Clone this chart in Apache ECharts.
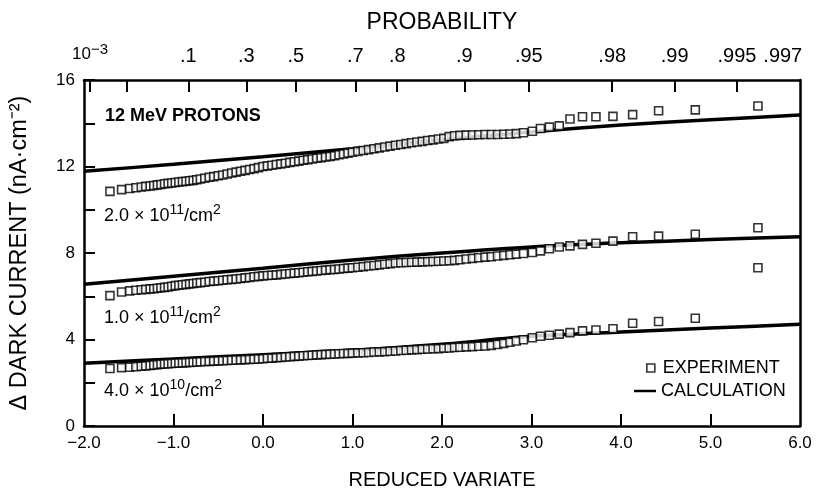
<!DOCTYPE html>
<html>
<head>
<meta charset="utf-8">
<script src="https://cdn.jsdelivr.net/npm/echarts@6/dist/echarts.min.js"></script>
<style>
  html, body { margin: 0; padding: 0; background: #fff; }
  #chart { width: 826px; height: 495px; }
</style>
</head>
<body>
<div id="chart"></div>
<script>
// Reduced variate (Gumbel plotting positions) shared by the three fluence sets
const reducedVariate = [
  -1.71, -1.58, -1.49, -1.42, -1.36, -1.31, -1.26, -1.22, -1.18, -1.14,
  -1.10, -1.06, -1.02, -0.98, -0.94, -0.90, -0.86, -0.82, -0.78, -0.74,
  -0.70, -0.65, -0.60, -0.55, -0.50, -0.45, -0.40, -0.35, -0.30, -0.25,
  -0.20, -0.15, -0.10, -0.05, 0.00, 0.05, 0.10, 0.15, 0.20, 0.25,
  0.30, 0.35, 0.40, 0.45, 0.50, 0.55, 0.60, 0.65, 0.70, 0.75,
  0.80, 0.85, 0.90, 0.95, 1.00, 1.06, 1.12, 1.18, 1.24, 1.30,
  1.36, 1.42, 1.48, 1.54, 1.60, 1.66, 1.72, 1.78, 1.84, 1.90,
  1.96, 2.02, 2.08, 2.14, 2.20, 2.27, 2.34, 2.41, 2.48, 2.55,
  2.62, 2.69, 2.76, 2.83, 2.91, 3.01, 3.10, 3.20, 3.31, 3.43,
  3.57, 3.72, 3.91, 4.13, 4.42, 4.83, 5.53
];

// Measured dark current increase (nA/cm^2), 2.0e11 protons/cm^2
const exp2e11 = [
  10.85, 10.93, 10.98, 11.02, 11.05, 11.08, 11.10, 11.12, 11.15, 11.17,
  11.20, 11.22, 11.24, 11.26, 11.28, 11.30, 11.32, 11.34, 11.36, 11.39,
  11.42, 11.46, 11.50, 11.53, 11.57, 11.61, 11.65, 11.70, 11.74, 11.78,
  11.82, 11.86, 11.90, 11.95, 12.00, 12.03, 12.06, 12.09, 12.12, 12.15,
  12.19, 12.22, 12.25, 12.29, 12.32, 12.35, 12.38, 12.41, 12.44, 12.47,
  12.50, 12.54, 12.58, 12.62, 12.66, 12.70, 12.74, 12.78, 12.82, 12.86,
  12.90, 12.94, 12.98, 13.02, 13.06, 13.10, 13.13, 13.16, 13.20, 13.23,
  13.27, 13.30, 13.38, 13.42, 13.44, 13.45, 13.46, 13.47, 13.48, 13.48,
  13.48, 13.49, 13.50, 13.52, 13.56, 13.63, 13.76, 13.82, 13.88, 14.20,
  14.30, 14.30, 14.32, 14.40, 14.58, 14.62, 14.80
];

// 1.0e11 protons/cm^2
const exp1e11 = [
  6.03, 6.20, 6.25, 6.28, 6.30, 6.32, 6.34, 6.35, 6.37, 6.39,
  6.41, 6.43, 6.46, 6.49, 6.51, 6.53, 6.55, 6.57, 6.59, 6.61,
  6.63, 6.65, 6.68, 6.70, 6.72, 6.74, 6.76, 6.78, 6.80, 6.82,
  6.85, 6.87, 6.90, 6.92, 6.94, 6.96, 6.97, 6.99, 7.01, 7.03,
  7.05, 7.07, 7.09, 7.11, 7.13, 7.15, 7.17, 7.19, 7.21, 7.23,
  7.24, 7.26, 7.28, 7.30, 7.32, 7.34, 7.37, 7.40, 7.42, 7.45,
  7.48, 7.51, 7.54, 7.55, 7.56, 7.57, 7.58, 7.59, 7.60, 7.61,
  7.62, 7.63, 7.64, 7.66, 7.69, 7.72, 7.75, 7.78, 7.81, 7.83,
  7.86, 7.89, 7.92, 7.95, 7.98, 8.02, 8.10, 8.20, 8.28, 8.33,
  8.40, 8.45, 8.55, 8.75, 8.78, 8.87, 9.17
];
// second sample at the top plotting position for 1.0e11
const exp1e11ExtraX = [5.53];
const exp1e11ExtraY = [7.32];

// 4.0e10 protons/cm^2 (no sample at the last position)
const exp4e10 = [
  2.66, 2.70, 2.72, 2.74, 2.76, 2.78, 2.80, 2.82, 2.84, 2.86,
  2.87, 2.88, 2.89, 2.90, 2.91, 2.92, 2.93, 2.94, 2.95, 2.96,
  2.97, 2.98, 2.99, 3.00, 3.01, 3.02, 3.03, 3.04, 3.05, 3.06,
  3.07, 3.08, 3.09, 3.10, 3.11, 3.13, 3.14, 3.16, 3.17, 3.19,
  3.20, 3.22, 3.23, 3.25, 3.26, 3.27, 3.29, 3.30, 3.31, 3.32,
  3.33, 3.34, 3.35, 3.36, 3.37, 3.38, 3.39, 3.40, 3.42, 3.43,
  3.44, 3.46, 3.47, 3.49, 3.50, 3.52, 3.53, 3.55, 3.56, 3.57,
  3.58, 3.60, 3.61, 3.63, 3.64, 3.66, 3.67, 3.69, 3.70, 3.73,
  3.77, 3.82, 3.87, 3.93, 3.99, 4.08, 4.15, 4.20, 4.25, 4.32,
  4.40, 4.44, 4.50, 4.75, 4.83, 4.98, null
];

// Calculated curves
const calcX = [-2, -1, 0, 1, 2, 3, 4, 5, 6];
const calc2e11 = [11.78, 12.10, 12.45, 12.82, 13.24, 13.60, 13.92, 14.16, 14.38];
const calc1e11 = [6.55, 6.93, 7.30, 7.68, 8.00, 8.28, 8.47, 8.62, 8.75];
const calc4e10 = [2.90, 3.10, 3.30, 3.50, 3.78, 4.15, 4.35, 4.53, 4.70];

// Axis ticks and labels
const xLabelValues = [-2, -1, 0, 1, 2, 3, 4, 5, 6];
const xLabelTexts = ['\u22122.0', '\u22121.0', '0.0', '1.0', '2.0', '3.0', '4.0', '5.0', '6.0'];
const xInnerTicks = [-1, 0, 1, 2, 3, 4, 5];
const yLabelValues = [0, 4, 8, 12, 16];
const probTicks = [0.001, 0.01, 0.1, 0.3, 0.5, 0.7, 0.8, 0.9, 0.95, 0.98, 0.99, 0.995];
const probLabelValues = [0.001, 0.1, 0.3, 0.5, 0.7, 0.8, 0.9, 0.95, 0.98, 0.99, 0.995, 0.997];
const probLabelTexts = ['{a|10}{b|\u22123}', '.1', '.3', '.5', '.7', '.8', '.9', '.95', '.98', '.99', '.995', '.997'];

// Gumbel reduced variate of a cumulative probability
const toReduced = p => -Math.log(-Math.log(p));
const probTickVariate = probTicks.map(toReduced);
const probLabelPos = probLabelValues.map(toReduced);

// tick length in data units of the current axis (0..16 spans the frame height)
const Y_MIN = 0, Y_MAX = 16, TICK_LEN = 0.55;

const pairs = (xs, ys) => xs.map((x, i) => [x, ys[i]]).filter(d => d[1] != null);

const SANS = "'Liberation Sans', Arial, sans-serif";

const scatterSeries = (data) => ({
  name: 'EXPERIMENT', type: 'scatter', symbol: 'rect', symbolSize: 8,
  itemStyle: { color: '#fff', borderColor: '#000', borderWidth: 1.6 }, data, z: 3, silent: true
});
const lineSeries = (ys) => ({
  name: 'CALCULATION', type: 'line', showSymbol: false, smooth: 0.3,
  lineStyle: { color: '#000', width: 3.5 }, itemStyle: { color: '#000' },
  data: pairs(calcX, ys), z: 2, silent: true
});

// inward tick marks on the bottom (reduced variate) and top (probability) edges
const tickSegments = [].concat(
  xInnerTicks.map(x => [{ coord: [x, Y_MIN] }, { coord: [x, Y_MIN + TICK_LEN] }]),
  probTickVariate.map(x => [{ coord: [x, Y_MAX] }, { coord: [x, Y_MAX - TICK_LEN] }])
);

const chart = echarts.init(document.getElementById('chart'));

const doseLabel = (text, top) => ({
  type: 'text', left: 104, top,
  style: {
    text,
    rich: {
      b: { fontFamily: SANS, fontSize: 18, lineHeight: 26, fill: '#000' },
      s: { fontFamily: SANS, fontSize: 14, lineHeight: 14, verticalAlign: 'top', fill: '#000' }
    }
  }
});

const firstLine = lineSeries(calc2e11);
firstLine.markLine = {
  silent: true, symbol: ['none', 'none'], animation: false,
  label: { show: false },
  lineStyle: { color: '#000', width: 2, type: 'solid' },
  emphasis: { disabled: true },
  data: tickSegments
};

chart.setOption({
  animation: false,
  grid: { left: 82, right: 26, top: 80, bottom: 68 },
  xAxis: [
    {
      type: 'value', position: 'bottom', min: -2, max: 6, interval: 1,
      axisLine: { show: true, onZero: false, lineStyle: { color: '#000', width: 2.5 } },
      axisTick: { show: false },
      axisLabel: {
        margin: 9, color: '#000', fontFamily: SANS, fontSize: 17,
        formatter: v => xLabelTexts[xLabelValues.findIndex(t => Math.abs(t - v) < 1e-6)]
      },
      splitLine: { show: false },
      name: 'REDUCED VARIATE', nameLocation: 'middle', nameGap: 44,
      nameTextStyle: { color: '#000', fontFamily: SANS, fontSize: 20 }
    },
    {
      type: 'value', position: 'top', min: -2, max: 6,
      axisLine: { show: true, onZero: false, lineStyle: { color: '#000', width: 2.5 } },
      axisTick: { show: false },
      axisLabel: {
        customValues: probLabelPos, margin: 14, color: '#000', fontFamily: SANS, fontSize: 20,
        formatter: v => {
          let best = 0;
          probLabelPos.forEach((p, i) => { if (Math.abs(p - v) < Math.abs(probLabelPos[best] - v)) best = i; });
          return probLabelTexts[best];
        },
        rich: {
          a: { fontFamily: SANS, fontSize: 17, lineHeight: 24, color: '#000' },
          b: { fontFamily: SANS, fontSize: 15, lineHeight: 15, verticalAlign: 'top', color: '#000' }
        }
      },
      splitLine: { show: false },
      name: 'PROBABILITY', nameLocation: 'middle', nameGap: 46,
      nameTextStyle: { color: '#000', fontFamily: SANS, fontSize: 23 }
    }
  ],
  yAxis: [
    {
      type: 'value', position: 'left', min: Y_MIN, max: Y_MAX, interval: 2,
      axisLine: { show: true, onZero: false, lineStyle: { color: '#000', width: 2.5 } },
      axisTick: { show: true, inside: true, length: 11, lineStyle: { color: '#000', width: 2 } },
      axisLabel: { customValues: yLabelValues, margin: 9, color: '#000', fontFamily: SANS, fontSize: 17 },
      splitLine: { show: false },
      name: '\u0394 DARK CURRENT (nA\u00B7cm\u207B\u00B2)', nameLocation: 'middle', nameGap: 52, nameRotate: 90,
      nameTextStyle: { color: '#000', fontFamily: SANS, fontSize: 23.5 }
    },
    {
      type: 'value', position: 'right', min: Y_MIN, max: Y_MAX,
      axisLine: { show: true, onZero: false, lineStyle: { color: '#000', width: 2.5 } },
      axisTick: { show: false }, axisLabel: { show: false }, splitLine: { show: false }
    }
  ],
  legend: [
    {
      data: [{ name: 'EXPERIMENT', icon: 'rect', itemStyle: { color: '#fff', borderColor: '#000', borderWidth: 1.6 } }],
      left: 646, top: 359, padding: 0, itemWidth: 8, itemHeight: 8, selectedMode: false,
      textStyle: { color: '#000', fontFamily: SANS, fontSize: 18, padding: [0, 0, 0, 3] }
    },
    {
      data: [{ name: 'CALCULATION', icon: 'rect', itemStyle: { color: '#000' } }],
      left: 634, top: 382, padding: 0, itemWidth: 22, itemHeight: 2.5, selectedMode: false,
      textStyle: { color: '#000', fontFamily: SANS, fontSize: 18 }
    }
  ],
  graphic: [
    {
      type: 'text', left: 105, top: 107,
      style: { text: '12 MeV PROTONS', fontFamily: SANS, fontSize: 18, fontWeight: 'bold', fill: '#000' }
    },
    doseLabel('{b|2.0 \u00D7 10}{s|11}{b|/cm}{s|2}', 203),
    doseLabel('{b|1.0 \u00D7 10}{s|11}{b|/cm}{s|2}', 305),
    doseLabel('{b|4.0 \u00D7 10}{s|10}{b|/cm}{s|2}', 378)
  ],
  series: [
    firstLine,
    lineSeries(calc1e11),
    lineSeries(calc4e10),
    scatterSeries(pairs(reducedVariate, exp2e11)),
    scatterSeries(pairs(reducedVariate, exp1e11).concat(pairs(exp1e11ExtraX, exp1e11ExtraY))),
    scatterSeries(pairs(reducedVariate, exp4e10))
  ]
});
</script>
</body>
</html>
